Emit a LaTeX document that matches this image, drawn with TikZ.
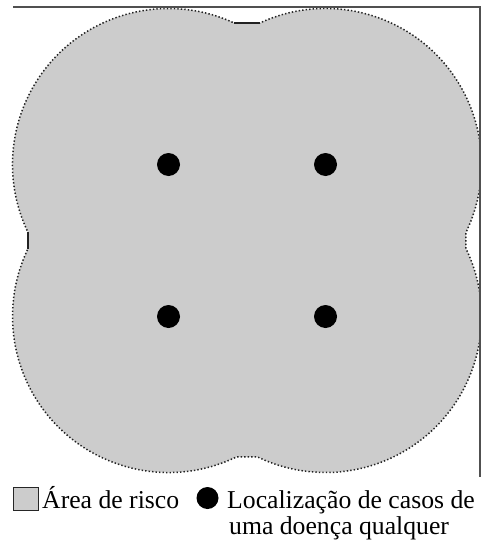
\documentclass[tikz,border=0pt]{standalone}
\usepackage{fontspec}
\setmainfont{Liberation Serif}
\definecolor{riskgray}{HTML}{CCCCCC}
\definecolor{outlinegray}{HTML}{222222}
\definecolor{framegray}{HTML}{505050}
\begin{document}
\begin{tikzpicture}[x=1pt,y=-1pt,
  riskfill/.style={fill=riskgray},
  outline/.style={draw=outlinegray, line width=1.5pt, dash pattern=on 1.4pt off 2.1pt},
  flatline/.style={draw=outlinegray, line width=1.4pt},
  framestyle/.style={draw=framegray, line width=2pt},
  casedot/.style={circle, fill=black, minimum size=23pt, inner sep=0pt},
  legtext/.style={font=\fontsize{25.7}{24}\selectfont, inner sep=0pt, anchor=base west},
]
\useasboundingbox (0,0) rectangle (481,546);
\def\R{156}
\pgfmathsetmacro{\at}{asin(141.5/156)}
\pgfmathsetmacro{\ab}{asin(140.5/156)}
\pgfmathsetmacro{\ar}{acos(140.5/156)}
\pgfmathsetmacro{\al}{acos(140.5/156)}
\coordinate (cA) at (168.5,164.5);
\coordinate (cB) at (325.5,164.5);
\coordinate (cC) at (168.5,316.5);
\coordinate (cD) at (325.5,316.5);
\def\riskshape{([shift={(-\at:\R)}]cA) -- ([shift={(180+\at:\R)}]cB)
  arc[start angle=180+\at, end angle=360+\ar, radius=\R]
  -- ([shift={(-\ar:\R)}]cD)
  arc[start angle=-\ar, end angle=180-\ab, radius=\R]
  -- ([shift={(\ab:\R)}]cC)
  arc[start angle=\ab, end angle=180+\al, radius=\R]
  -- ([shift={(180-\al:\R)}]cA)
  arc[start angle=180-\al, end angle=360-\at, radius=\R] -- cycle}
\begin{scope}
  \clip (0,7) rectangle (479.5,546);
  \fill[riskfill] \riskshape;
  \draw[outline] \riskshape;
\end{scope}
\draw[flatline] ([shift={(-\at:\R)}]cA) -- ([shift={(180+\at:\R)}]cB);
\draw[flatline] ([shift={(180-\al:\R)}]cA) -- ([shift={(180+\al:\R)}]cC);
\draw[framestyle] (13,7) -- (480,7) -- (480,477);
\node[casedot] (d1) at (cA) {};
\node[casedot] (d2) at (cB) {};
\node[casedot] (d3) at (cC) {};
\node[casedot] (d4) at (cD) {};
\node[draw=black!85, fill=riskgray, line width=1pt, minimum width=25pt, minimum height=23pt, inner sep=0pt] (legbox) at (26,498.5) {};
\node[legtext] (legarea) at (42,508) {Área de risco};
\node[casedot, minimum size=22pt] (legdot) at (207.5,498) {};
\node[legtext] (legcase1) at (227,508) {Localização de casos de};
\node[legtext] (legcase2) at (229,534) {uma doença qualquer};
\end{tikzpicture}
\end{document}
